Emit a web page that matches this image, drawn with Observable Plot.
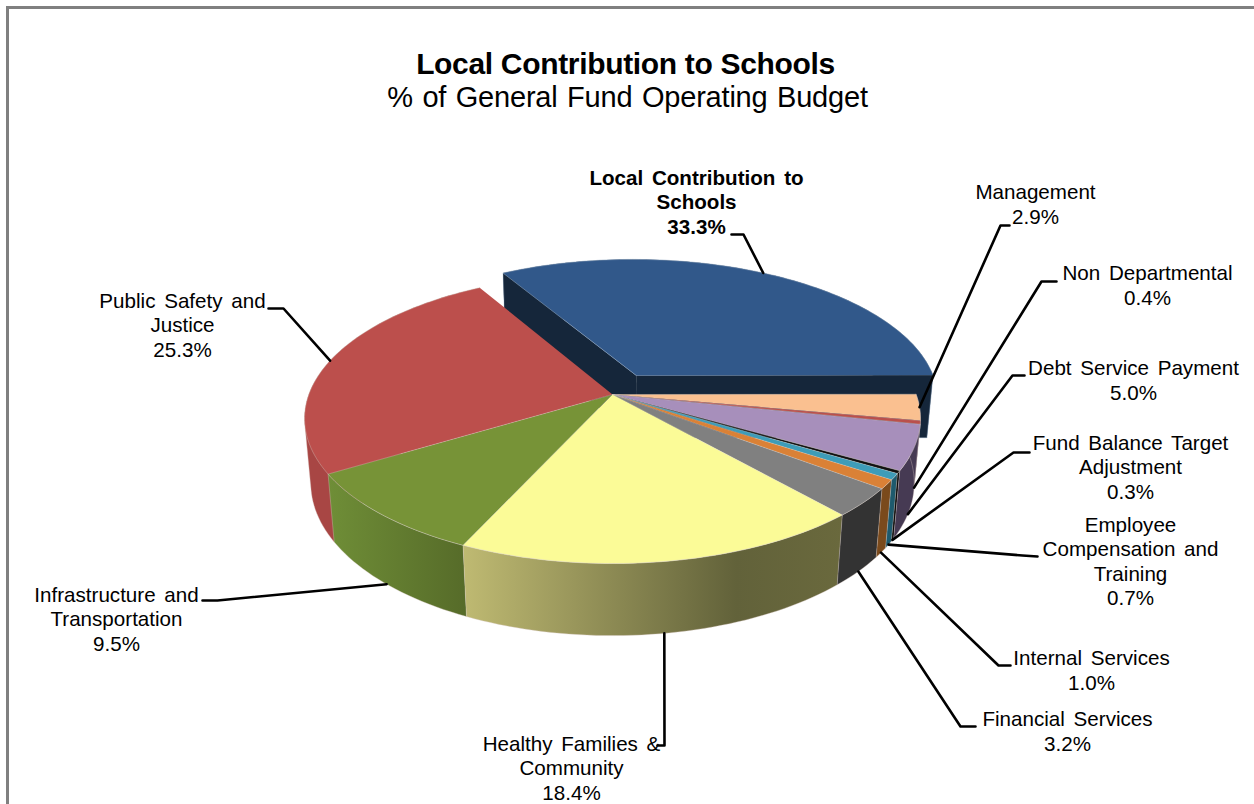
<!DOCTYPE html>
<html>
<head>
<meta charset="utf-8">
<script src="https://cdn.jsdelivr.net/npm/d3@7"></script>
<script src="https://cdn.jsdelivr.net/npm/@observablehq/plot@0.6"></script>
<style>
  html, body { margin: 0; padding: 0; background: #fff; }
  svg { display: block; }
  .slice-label { word-spacing: 3px; }
  .chart-title { letter-spacing: -0.33px; }
  .chart-subtitle { word-spacing: 1.7px; letter-spacing: -0.2px; }
</style>
</head>
<body>
<div id="chart"></div>
<script>
// Budget shares, clockwise from the top-left edge of the first slice.
const categories = [
  "Local Contribution to Schools", "Management", "Non Departmental",
  "Debt Service Payment", "Fund Balance Target Adjustment",
  "Employee Compensation and Training", "Internal Services",
  "Financial Services", "Healthy Families & Community",
  "Infrastructure and Transportation", "Public Safety and Justice"
];
const shares = [33.3, 2.9, 0.4, 5.0, 0.3, 0.7, 1.0, 3.2, 18.4, 9.5, 25.3];
const wrappedNames = [
  "Local Contribution to\nSchools", "Management", "Non Departmental",
  "Debt Service Payment", "Fund Balance Target\nAdjustment",
  "Employee\nCompensation and\nTraining", "Internal Services",
  "Financial Services", "Healthy Families &\nCommunity",
  "Infrastructure and\nTransportation", "Public Safety and\nJustice"
];
const topColors = ["#31588a", "#fac090", "#b9504c", "#a78fbb", "#111111", "#3e9cb8",
                   "#da8136", "#808080", "#fbfb97", "#779337", "#bc4f4c"];
const wallColors = ["#15263a", "#463a53", "#463a53", "#463a53", "#0a0a0a", "#1e5a6d",
                    "#7a4a1c", "#333333", "url(#wallYellow)", "url(#wallGreen)", "#a84644"];

// Label placement: centre of the text block, then the two leader points beside it.
const labelX = [696, 1035, 1147, 1133, 1130, 1130, 1091, 1067, 571, 116, 182];
const labelY = [201, 203, 284, 379, 466, 560, 669, 730, 767, 618, 324];
const leaderA = [[731, 234], [1009, 225], [1056, 281], [1024, 375], [1029, 452], [1037, 556],
                 [1010, 665], [975, 726], [657, 745], [202, 600], [268, 308]];
const leaderB = [[743, 234], [1000, 225], [1041, 281], [1012, 375], [1013, 452], [1022, 555],
                 [998, 665], [960, 726], [664, 745], [217, 600], [283, 308]];
// Leaders meet the upper rim on these slices and the lower rim on the rest.
const leaderOnTopRim = [true, true, false, false, false, false, false, false, false, false, true];

// Perspective view of the tilted pie.
const startAngle = -120, explodeFirst = 0.16;
const view = {cx: 612, cy: 394, f: 303.7, g: 141, k: 0.1656, depth: 65, shrink: 0.02};
const toRad = Math.PI / 180;

function project(px, py, z) {
  const s = 1 / (1 - view.k * py + view.shrink * z);
  return {x: view.cx + view.f * px * s, y: view.cy + (view.g * py + view.depth * z) * s};
}
const rim = (slice, deg, z) => project(
  Math.cos(deg * toRad) + slice.ox, Math.sin(deg * toRad) + slice.oy, z);
const apex = (slice, z) => project(slice.ox, slice.oy, z);

// Cumulative angles and explosion offset for each slice.
let running = startAngle;
const slices = categories.map((name, i) => {
  const a0 = running, a1 = running + shares[i] * 3.6;
  running = a1;
  const mid = (a0 + a1) / 2;
  const e = i === 0 ? explodeFirst : 0;
  return {name, i, a0, a1, mid, ox: e * Math.cos(mid * toRad), oy: e * Math.sin(mid * toRad)};
});

function arc(slice, z, reverse) {
  const n = Math.max(2, Math.ceil((slice.a1 - slice.a0) / 1.5));
  const pts = d3.range(n + 1).map(j => rim(slice, slice.a0 + (slice.a1 - slice.a0) * j / n, z));
  return reverse ? pts.reverse() : pts;
}
const tag = (pts, key, fill) => pts.map(p => ({...p, key, fill}));

// The slice that wraps round the left side also needs the strip between its two rims,
// so its wall is the hull of both arcs.
function wallOutline(s) {
  const pts = [...arc(s, 0), ...arc(s, 1, true)];
  if (s.a0 > 180 || s.a1 < 180) return pts;
  return d3.polygonHull(pts.map(p => [p.x, p.y])).map(([x, y]) => ({x, y}));
}

const topFaces = slices.flatMap(s =>
  tag([apex(s, 0), ...arc(s, 0)], s.name, topColors[s.i]));
const wallFaces = [...slices].reverse().flatMap(s =>
  tag(wallOutline(s), s.name, wallColors[s.i]));

// Cut faces of the pulled-out slice show in the gap it leaves.
const first = slices[0];
const cutFaces = [
  ...tag([apex(first, 0), rim(first, first.a0, 0), rim(first, first.a0, 1), apex(first, 1)], "cutStart", wallColors[0]),
  ...tag([apex(first, 0), rim(first, first.a1, 0), rim(first, first.a1, 1), apex(first, 1)], "cutEnd", wallColors[0])
];
const isFirst = d => d.key === first.name;

const leaders = slices.flatMap(s => {
  const end = leaderOnTopRim[s.i] ? rim(s, s.mid, 0) : rim(s, s.mid, 1);
  return [leaderA[s.i], leaderB[s.i], [end.x, end.y]].map(([x, y]) => ({x, y, key: s.name}));
});

const labels = slices.map(s => ({
  x: labelX[s.i], y: labelY[s.i],
  text: `${wrappedNames[s.i]}\n${shares[s.i].toFixed(1)}%`,
  bold: s.i === 0
}));

const titleRow = [{x: 625, y: 64, text: "Local Contribution to Schools"}];
const subtitleRow = [{x: 627, y: 97, text: "% of General Fund Operating Budget"}];
const frameLeft = [{x: 7, y1: 6, y2: 804}];
const frameTop = [{y: 7, x1: 6, x2: 1254}];

const gradient = (id, stops) => {
  const ns = "http://www.w3.org/2000/svg";
  const g = document.createElementNS(ns, "linearGradient");
  g.setAttribute("id", id);
  for (const [offset, color] of stops) {
    const stop = document.createElementNS(ns, "stop");
    stop.setAttribute("offset", offset);
    stop.setAttribute("stop-color", color);
    g.appendChild(stop);
  }
  return g;
};
const wallDefs = () => {
  const defs = document.createElementNS("http://www.w3.org/2000/svg", "defs");
  defs.appendChild(gradient("wallYellow", [[0, "#bfba72"], [0.72, "#62623a"], [1, "#6a693d"]]));
  defs.appendChild(gradient("wallGreen", [[0, "#6f8e37"], [1, "#566b29"]]));
  return defs;
};

const face = (data, filter, edge) => Plot.line(data, {
  filter, x: "x", y: "y", z: "key", fill: "fill",
  stroke: edge, strokeOpacity: 0.45, strokeWidth: 0.8, strokeLinejoin: "round"
});

const chart = Plot.plot({
  width: 1254,
  height: 804,
  margin: 0,
  x: {domain: [0, 1254], range: [0, 1254], axis: null},
  y: {domain: [0, 804], range: [0, 804], axis: null},
  color: {type: "identity"},
  style: {fontFamily: "'Liberation Sans', Arial, sans-serif", background: "#fff", color: "#000"},
  marks: [
    wallDefs,
    Plot.ruleX(frameLeft, {x: "x", y1: "y1", y2: "y2", stroke: "#808080", strokeWidth: 3}),
    Plot.ruleY(frameTop, {y: "y", x1: "x1", x2: "x2", stroke: "#808080", strokeWidth: 3}),
    face(wallFaces, isFirst, "#8aa0b8"),
    face(cutFaces, undefined, "#8aa0b8"),
    face(topFaces, isFirst, "#a9bdd2"),
    face(wallFaces, d => !isFirst(d), "#d8c8c0"),
    face(topFaces, d => !isFirst(d), "#d8d0c8"),
    Plot.line(leaders, {x: "x", y: "y", z: "key", stroke: "#000", strokeWidth: 2.6}),
    Plot.text(labels, {
      filter: d => !d.bold, x: "x", y: "y", text: "text", className: "slice-label",
      fontSize: 20.6, lineHeight: 1.185, fill: "#000"
    }),
    Plot.text(labels, {
      filter: d => d.bold, x: "x", y: "y", text: "text", className: "slice-label",
      fontSize: 20.6, lineHeight: 1.185, fontWeight: "bold", fill: "#000"
    }),
    Plot.text(titleRow, {
      x: "x", y: "y", text: "text", className: "chart-title",
      fontSize: 30, fontWeight: "bold", fill: "#000"
    }),
    Plot.text(subtitleRow, {
      x: "x", y: "y", text: "text", className: "chart-subtitle",
      fontSize: 29, fill: "#000"
    })
  ]
});
document.getElementById("chart").appendChild(chart);
</script>
</body>
</html>
